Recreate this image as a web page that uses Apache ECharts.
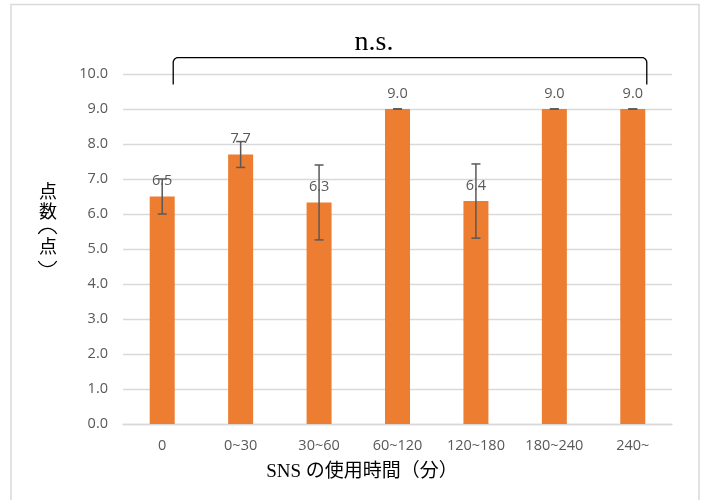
<!DOCTYPE html>
<html><head><meta charset="utf-8">
<script src="https://cdn.jsdelivr.net/npm/echarts@6/dist/echarts.min.js"></script>
<style>html,body{margin:0;padding:0;background:#fff}#c{width:705px;height:500px}</style>
</head><body><div id="c"></div>
<script>
const categories = ['0', '0~30', '30~60', '60~120', '120~180', '180~240', '240~'];
const means = [6.5, 7.7, 6.33, 9.0, 6.37, 9.0, 9.0];
const errors = [0.5, 0.37, 1.07, 0, 1.06, 0, 0];
const xTitle = 'SNS の使用時間（分）';
const yTitleChars = ['点', '数', '点'];
const sigLabel = 'n.s.';

const sans = '"Open Sans", "Noto Sans CJK JP", sans-serif';
const serif = '"Liberation Serif", "Noto Sans CJK JP", serif';

const chart = echarts.init(document.getElementById('c'), null, {renderer: 'canvas'});
const errData = means.map((m, i) => [i, m - errors[i], m + errors[i]]);

chart.setOption({
  animation: false,
  grid: {left: 123, right: 33, top: 74, bottom: 76},
  xAxis: {
    type: 'category', data: categories,
    axisLine: {lineStyle: {color: '#D9D9D9', width: 1.3}},
    axisTick: {show: false},
    axisLabel: {color: '#595959', fontSize: 14.5, fontFamily: sans, margin: 15}
  },
  yAxis: {
    type: 'value', min: 0, max: 10, interval: 1,
    axisLine: {show: false}, axisTick: {show: false},
    splitLine: {lineStyle: {color: '#D9D9D9', width: 1.3}},
    axisLabel: {color: '#595959', fontSize: 14.5, fontFamily: sans, margin: 15,
      formatter: v => v.toFixed(1)}
  },
  series: [
    {
      type: 'bar', data: means, barWidth: 25,
      itemStyle: {color: '#ED7D31'},
      label: {show: true, position: 'top', distance: 8, color: '#595959',
        fontSize: 14.5, fontFamily: sans, formatter: p => p.value.toFixed(1)},
      z: 2
    },
    {
      type: 'custom', data: errData, z: 5,
      renderItem: (params, api) => {
        const x = api.value(0);
        const lo = api.coord([x, api.value(1)]);
        const hi = api.coord([x, api.value(2)]);
        const hw = 4.5;
        const st = {stroke: '#595959', lineWidth: 1.5};
        return {type: 'group', children: [
          {type: 'line', shape: {x1: hi[0], y1: hi[1], x2: lo[0], y2: lo[1]}, style: st},
          {type: 'line', shape: {x1: hi[0]-hw, y1: hi[1], x2: hi[0]+hw, y2: hi[1]}, style: st},
          {type: 'line', shape: {x1: lo[0]-hw, y1: lo[1], x2: lo[0]+hw, y2: lo[1]}, style: st}
        ]};
      }
    }
  ]
});

const pL = chart.convertToPixel({gridIndex: 0}, [0, 10.47]);
const pR = chart.convertToPixel({gridIndex: 0}, [categories.length - 1, 9.7]);
const xl = pL[0] + 11, xr = pR[0] + 14, yt = pL[1], yb = pR[1], r = 5;
const pts = [[xl, yb]];
for (let k = 0; k <= 6; k++) {
  const a = Math.PI - k * Math.PI / 12;
  pts.push([xl + r + r * Math.cos(a), yt + r - r * Math.sin(a)]);
}
for (let k = 0; k <= 6; k++) {
  const a = Math.PI / 2 - k * Math.PI / 12;
  pts.push([xr - r + r * Math.cos(a), yt + r - r * Math.sin(a)]);
}
pts.push([xr, yb]);

// vertical title: characters stacked, parentheses drawn as arcs (vertical forms)
const tx = 48;
const charY = [191.5, 211, 246.5];
const yTitleEls = yTitleChars.map((ch, i) => ({
  type: 'text', x: tx, y: charY[i],
  style: {text: ch, font: '18px "Noto Sans CJK JP", sans-serif', fill: '#000',
    align: 'center', verticalAlign: 'middle'}
}));
const arcR = 10.5, half = Math.asin(9.2 / arcR), sag = arcR - Math.sqrt(arcR * arcR - 9.2 * 9.2);
yTitleEls.push(
  {type: 'arc', shape: {cx: tx - 0.5, cy: 228.5 + arcR, r: arcR,
    startAngle: -Math.PI / 2 - half, endAngle: -Math.PI / 2 + half, clockwise: true},
    style: {fill: 'none', stroke: '#000', lineWidth: 1.2}},
  {type: 'arc', shape: {cx: tx - 0.5, cy: 266.5 - arcR, r: arcR,
    startAngle: Math.PI / 2 - half, endAngle: Math.PI / 2 + half, clockwise: true},
    style: {fill: 'none', stroke: '#000', lineWidth: 1.2}}
);

chart.setOption({
  graphic: [
    {type: 'rect', shape: {x: 11, y: 4.5, width: 688, height: 520},
      style: {fill: 'none', stroke: '#D9D9D9', lineWidth: 1.5}, silent: true},
    {type: 'polyline', shape: {points: pts},
      style: {fill: 'none', stroke: '#000', lineWidth: 1.3}},
    {type: 'text', x: (xl + xr) / 2 - 36, y: yt - 15,
      style: {text: sigLabel, font: '28px ' + serif, fill: '#000', align: 'center', verticalAlign: 'middle'}},
    {type: 'text', x: 362, y: 472,
      style: {text: xTitle, font: '19px ' + serif, fill: '#000', align: 'center', verticalAlign: 'middle'}}
  ].concat(yTitleEls)
});
</script></body></html>
